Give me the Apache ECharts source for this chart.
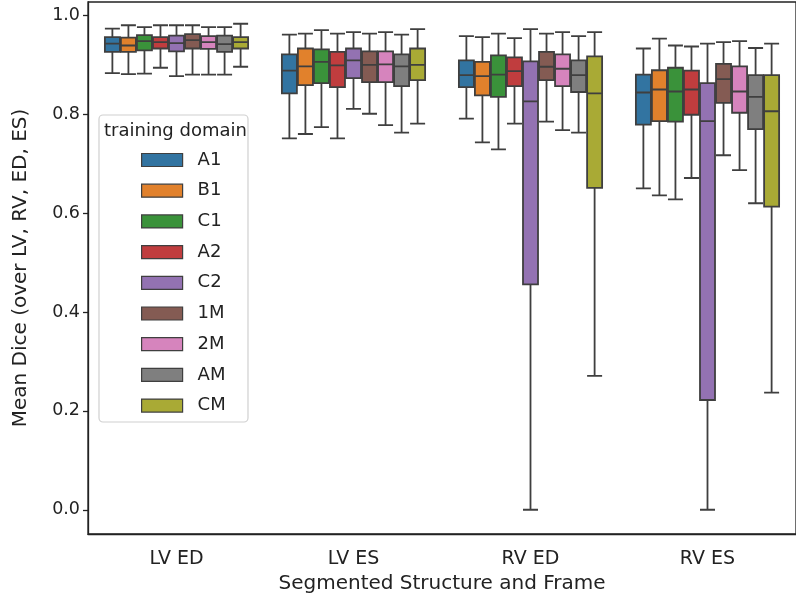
<!DOCTYPE html>
<html>
<head>
<meta charset="utf-8">
<script src="https://cdn.jsdelivr.net/npm/echarts@6/dist/echarts.min.js"></script>
<style>html,body{margin:0;padding:0;background:#fff}#c{width:796px;height:601px}</style>
</head>
<body>
<div id="c"></div>
<script>
const categories = ['LV ED', 'LV ES', 'RV ED', 'RV ES'];
const domains = ['A1', 'B1', 'C1', 'A2', 'C2', '1M', '2M', 'AM', 'CM'];
const colors = ['#3274a1', '#e1812c', '#3a923a', '#c03d3e', '#9372b2', '#845b53', '#d684bd', '#7f7f7f', '#a9aa35'];
const yTicks = [0.0, 0.2, 0.4, 0.6, 0.8, 1.0];
// each box: [lower whisker, Q1, median, Q3, upper whisker]
const A1 = [[0.883, 0.926, 0.943, 0.956, 0.973], [0.751, 0.842, 0.888, 0.921, 0.961], [0.791, 0.855, 0.879, 0.909, 0.958], [0.650, 0.779, 0.844, 0.880, 0.933]];
const B1 = [[0.881, 0.926, 0.939, 0.955, 0.980], [0.760, 0.859, 0.897, 0.933, 0.963], [0.743, 0.838, 0.877, 0.906, 0.956], [0.636, 0.786, 0.850, 0.889, 0.953]];
const C1 = [[0.882, 0.929, 0.948, 0.960, 0.976], [0.774, 0.863, 0.906, 0.931, 0.970], [0.729, 0.835, 0.880, 0.919, 0.963], [0.628, 0.785, 0.846, 0.894, 0.939]];
const A2 = [[0.894, 0.933, 0.946, 0.956, 0.980], [0.751, 0.855, 0.899, 0.926, 0.963], [0.781, 0.857, 0.887, 0.915, 0.954], [0.671, 0.799, 0.850, 0.888, 0.937]];
const C2 = [[0.877, 0.927, 0.944, 0.959, 0.980], [0.811, 0.873, 0.909, 0.933, 0.966], [0.0, 0.456, 0.826, 0.907, 0.972], [0.0, 0.222, 0.786, 0.863, 0.943]];
const M1 = [[0.880, 0.933, 0.950, 0.962, 0.980], [0.801, 0.865, 0.900, 0.927, 0.963], [0.785, 0.869, 0.896, 0.926, 0.963], [0.717, 0.823, 0.871, 0.902, 0.946]];
const M2 = [[0.880, 0.932, 0.946, 0.958, 0.976], [0.778, 0.865, 0.901, 0.927, 0.966], [0.768, 0.857, 0.892, 0.921, 0.966], [0.687, 0.803, 0.846, 0.897, 0.948]];
const AM = [[0.880, 0.926, 0.942, 0.959, 0.976], [0.763, 0.857, 0.897, 0.921, 0.961], [0.763, 0.845, 0.879, 0.909, 0.958], [0.620, 0.770, 0.835, 0.879, 0.934]];
const CM = [[0.896, 0.933, 0.946, 0.956, 0.983], [0.781, 0.869, 0.900, 0.933, 0.972], [0.271, 0.651, 0.842, 0.917, 0.966], [0.237, 0.613, 0.806, 0.879, 0.943]];
const boxData = [A1, B1, C1, A2, C2, M1, M2, AM, CM];

const FONT = 'DejaVu Sans';
const chart = echarts.init(document.getElementById('c'), null, {renderer: 'canvas'});
const option = {
  animation: false,
  textStyle: {fontFamily: FONT},
  grid: {left: 88, top: 2, width: 714, height: 532, show: true, borderColor: '#222', borderWidth: 1.3, backgroundColor: 'transparent'},
  xAxis: {
    type: 'category', data: categories, boundaryGap: true,
    axisLine: {onZero: false, lineStyle: {color: '#222', width: 1.3}},
    axisTick: {alignWithLabel: true, length: 5, lineStyle: {color: '#222', width: 1.3}},
    axisLabel: {fontFamily: FONT, fontSize: 19, color: '#222', margin: 16},
    name: 'Segmented Structure and Frame', nameLocation: 'middle', nameGap: 39,
    nameTextStyle: {fontFamily: FONT, fontSize: 20, color: '#222'},
    splitLine: {show: false}
  },
  yAxis: {
    type: 'value', min: -0.049, max: 1.027,
    axisLine: {show: true, lineStyle: {color: '#222', width: 1.3}},
    axisTick: {show: true, length: 5, customValues: yTicks, lineStyle: {color: '#222', width: 1.3}},
    axisLabel: {fontFamily: FONT, fontSize: 17.5, color: '#222', margin: 8, customValues: yTicks, formatter: v => Number(v).toFixed(1)},
    splitLine: {show: false},
    name: 'Mean Dice (over LV, RV, ED, ES)', nameLocation: 'middle', nameGap: 57, nameRotate: 90,
    nameTextStyle: {fontFamily: FONT, fontSize: 20, color: '#222'}
  },
  legend: {
    orient: 'vertical', left: 136, top: 146,
    data: domains.map((d, i) => ({name: d, itemStyle: {color: colors[i], borderColor: '#3f3f3f', borderWidth: 1.2}})),
    itemWidth: 41, itemHeight: 13, itemGap: 12.7, icon: 'rect',
    textStyle: {fontFamily: FONT, fontSize: 18, color: '#222', lineHeight: 17, padding: [0, 0, 0, 10]},
    selectedMode: false
  },
  graphic: [
    {type: 'rect', z: 3, shape: {x: 99, y: 115, width: 149, height: 307, r: 4}, style: {fill: 'rgba(255,255,255,0.8)', stroke: '#d0d0d0', lineWidth: 1.2}},
    {type: 'text', z: 5, x: 104, y: 131.7, style: {text: 'training domain', fontFamily: FONT, fontSize: 18, fill: '#222', textAlign: 'left', textVerticalAlign: 'middle'}}
  ],
  series: domains.map((d, i) => ({
    name: d, type: 'boxplot', data: boxData[i], boxWidth: [15, 15],
    itemStyle: {color: colors[i], borderColor: '#3f3f3f', borderWidth: 1.8},
    emphasis: {disabled: true}
  }))
};
chart.setOption(option);
</script>
</body>
</html>
